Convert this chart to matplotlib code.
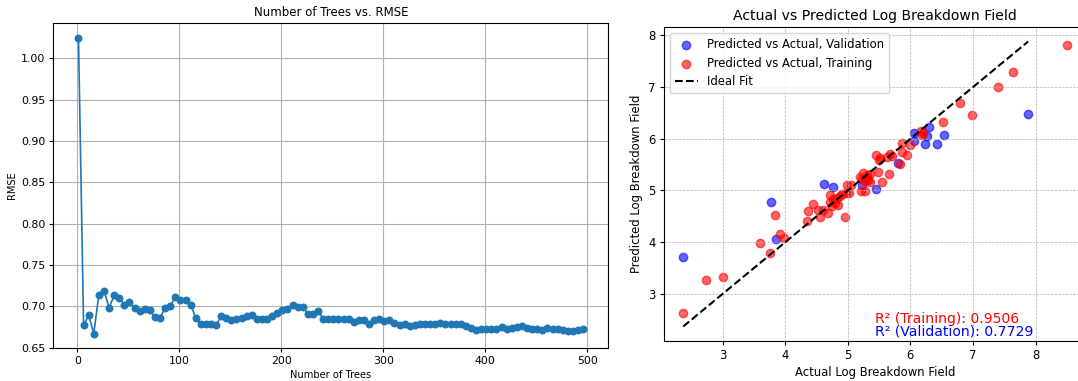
import numpy as np
import matplotlib
matplotlib.use("Agg")
import matplotlib.pyplot as plt

# RMSE vs number of trees (trees = 1, 6, 11, ..., 496)
n_trees = list(range(1, 500, 5))
rmse = [1.025, 0.677, 0.689, 0.667, 0.714, 0.719, 0.698, 0.713, 0.710, 0.702,
        0.705, 0.698, 0.694, 0.697, 0.695, 0.687, 0.686, 0.698, 0.700, 0.711,
        0.708, 0.707, 0.702, 0.686, 0.678, 0.679, 0.679, 0.677, 0.688, 0.686,
        0.683, 0.685, 0.686, 0.688, 0.689, 0.685, 0.685, 0.685, 0.688, 0.692,
        0.695, 0.697, 0.701, 0.699, 0.699, 0.691, 0.690, 0.694, 0.685, 0.684,
        0.685, 0.685, 0.685, 0.685, 0.681, 0.683, 0.683, 0.679, 0.683, 0.685,
        0.682, 0.683, 0.680, 0.677, 0.678, 0.676, 0.677, 0.678, 0.678, 0.678,
        0.678, 0.680, 0.679, 0.679, 0.679, 0.678, 0.676, 0.674, 0.671, 0.672,
        0.672, 0.672, 0.673, 0.675, 0.673, 0.674, 0.675, 0.676, 0.674, 0.673,
        0.672, 0.671, 0.674, 0.672, 0.672, 0.671, 0.670, 0.670, 0.671, 0.673]

# validation set: actual vs predicted
val_actual = [2.37, 3.77, 3.85, 4.62, 4.76, 5.23, 5.45, 5.80, 6.05, 6.06,
              6.24, 6.26, 6.30, 6.43, 6.54, 7.88]
val_pred = [3.72, 4.78, 4.06, 5.12, 5.07, 5.10, 5.02, 5.54, 6.11, 5.95,
            5.90, 6.06, 6.22, 5.89, 6.08, 6.48]

# training set: actual vs predicted
train_actual = [2.37, 2.74, 3.01, 3.60, 3.76, 3.83, 3.92, 3.98,
                4.34, 4.37, 4.44, 4.53, 4.56, 4.60, 4.69, 4.71, 4.72, 4.74, 4.77, 4.80,
                4.83, 4.84, 4.88, 4.90, 4.96, 4.97, 4.99, 5.02, 5.05,
                5.20, 5.21, 5.23, 5.25, 5.27, 5.28, 5.30, 5.31, 5.33, 5.35, 5.36,
                5.45, 5.48, 5.50, 5.52, 5.55, 5.63, 5.65, 5.67, 5.70, 5.84,
                5.86, 5.87, 5.95, 5.99, 6.17, 6.18, 6.20, 6.52, 6.79, 6.98,
                7.40, 7.64, 8.50]
train_pred = [2.63, 3.27, 3.32, 3.99, 3.80, 4.53, 4.15, 4.09,
              4.40, 4.61, 4.73, 4.62, 4.48, 4.63, 4.57, 4.91, 4.78, 4.69, 4.83, 4.75,
              4.86, 4.72, 4.89, 4.93, 4.49, 4.95, 5.10, 4.95, 5.11,
              5.27, 4.99, 5.22, 5.34, 5.18, 4.99, 5.25, 5.29, 5.21, 5.32, 5.17,
              5.68, 5.35, 5.58, 5.62, 5.17, 5.64, 5.31, 5.70, 5.66, 5.52,
              5.75, 5.91, 5.68, 5.88, 6.15, 6.07, 6.12, 6.33, 6.70, 6.46,
              7.00, 7.29, 7.81]

r2_train = 0.9506
r2_val = 0.7729

fig = plt.figure(figsize=(10.78, 3.81), dpi=100)

# left: number of trees vs RMSE (source image was shown a bit smaller)
ax1 = fig.add_axes([0.0494, 0.0858, 0.5149, 0.8546])
ax1.plot(n_trees, rmse, marker='o', markersize=4.7, linewidth=1.2)
ax1.set_title("Number of Trees vs. RMSE", fontsize=8.5, pad=4.5)
ax1.set_xlabel("Number of Trees", fontsize=7.1, labelpad=2.5)
ax1.set_ylabel("RMSE", fontsize=7.1, labelpad=3)
ax1.tick_params(labelsize=7.9, length=2.8, pad=2.8)
ax1.grid(True)

# right: actual vs predicted
ax2 = fig.add_axes([0.616, 0.1058, 0.3915, 0.8225])
ax2.scatter(val_actual, val_pred, color='blue', alpha=0.6,
            label="Predicted vs Actual, Validation")
ax2.scatter(train_actual, train_pred, color='red', alpha=0.6,
            label="Predicted vs Actual, Training")
lo, hi = min(val_actual), max(val_actual)
ax2.plot([lo, hi], [lo, hi], 'k--', lw=1.5, label="Ideal Fit")
ax2.set_title("Actual vs Predicted Log Breakdown Field", fontsize=10.1, pad=5)
ax2.set_xlabel("Actual Log Breakdown Field", fontsize=8.4, labelpad=3)
ax2.set_ylabel("Predicted Log Breakdown Field", fontsize=8.4, labelpad=3.5)
ax2.tick_params(labelsize=8.4, length=3, pad=3)
ax2.legend(loc='upper left', fontsize=8.4)
ax2.grid(True, linestyle='--', linewidth=0.5)
ax2.text(0.5, 0.056, f"R² (Training): {r2_train:.4f}", transform=ax2.transAxes,
         color='red', fontsize=10.1, va='baseline')
ax2.text(0.5, 0.015, f"R² (Validation): {r2_val:.4f}", transform=ax2.transAxes,
         color='blue', fontsize=10.1, va='baseline')

fig.savefig("out.png", dpi=100)
